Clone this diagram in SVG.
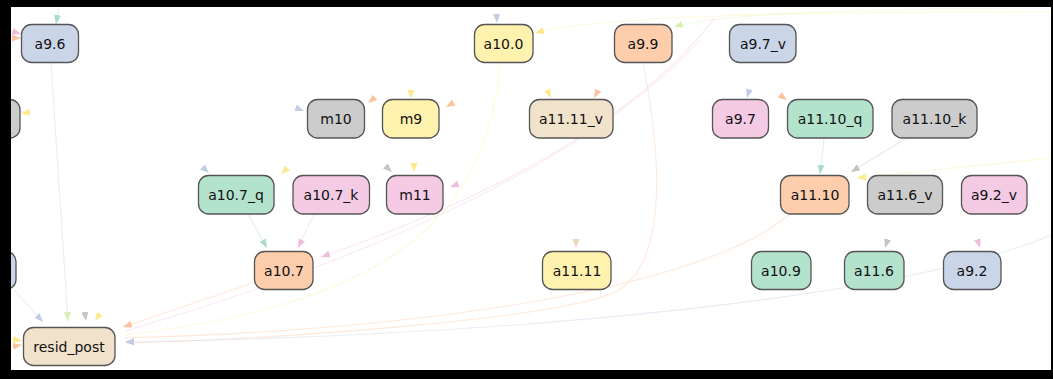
<svg xmlns="http://www.w3.org/2000/svg" width="1053" height="379" viewBox="0 0 1053 379">
<style>
.n rect{stroke:#555;stroke-width:1.3}
.n text{font-family:"DejaVu Sans","Liberation Sans",sans-serif;font-size:14px;fill:#111;text-anchor:middle;dominant-baseline:central}
.e path{fill:none;stroke-width:1.1;stroke-opacity:0.45}
.e path.s{stroke-opacity:0}
.g{fill:#b3e2cd}.o{fill:#fdcdac}.b{fill:#cbd5e8}.p{fill:#f4cae4}.l{fill:#e6f5c9}.y{fill:#fff2ae}.w{fill:#f1e2cc}.k{fill:#cccccc}
</style>
<defs>
<marker id="mG" markerUnits="userSpaceOnUse" markerWidth="10" markerHeight="8" refX="9" refY="3.5" orient="auto"><path d="M0,0L9,3.5L0,7z" fill="#a9dcc4"/></marker>
<marker id="mO" markerUnits="userSpaceOnUse" markerWidth="10" markerHeight="8" refX="9" refY="3.5" orient="auto"><path d="M0,0L9,3.5L0,7z" fill="#fbc3a0"/></marker>
<marker id="mB" markerUnits="userSpaceOnUse" markerWidth="10" markerHeight="8" refX="9" refY="3.5" orient="auto"><path d="M0,0L9,3.5L0,7z" fill="#c2cde4"/></marker>
<marker id="mP" markerUnits="userSpaceOnUse" markerWidth="10" markerHeight="8" refX="9" refY="3.5" orient="auto"><path d="M0,0L9,3.5L0,7z" fill="#f0bddc"/></marker>
<marker id="mL" markerUnits="userSpaceOnUse" markerWidth="10" markerHeight="8" refX="9" refY="3.5" orient="auto"><path d="M0,0L9,3.5L0,7z" fill="#d8efb4"/></marker>
<marker id="mY" markerUnits="userSpaceOnUse" markerWidth="10" markerHeight="8" refX="9" refY="3.5" orient="auto"><path d="M0,0L9,3.5L0,7z" fill="#fbe98e"/></marker>
<marker id="mW" markerUnits="userSpaceOnUse" markerWidth="10" markerHeight="8" refX="9" refY="3.5" orient="auto"><path d="M0,0L9,3.5L0,7z" fill="#ead7b9"/></marker>
<marker id="mK" markerUnits="userSpaceOnUse" markerWidth="10" markerHeight="8" refX="9" refY="3.5" orient="auto"><path d="M0,0L9,3.5L0,7z" fill="#c4c4c4"/></marker>
</defs>
<rect x="0" y="0" width="1053" height="379" fill="#fff"/>
<g id="connectors" class="e">
<path d="M59 7 L56 24" stroke="#b3e2cd" marker-end="url(#mG)"/>
<path d="M4 29 L21 34" stroke="#f4cae4" marker-end="url(#mP)"/>
<path d="M4 38 L21 38" stroke="#fdcdac" marker-end="url(#mO)"/>
<path d="M51 63 L68 321" stroke="#cbd5e8" stroke-opacity="0.3" marker-end="url(#mL)"/>
<path d="M14 290 L43 322" stroke="#cbd5e8" stroke-opacity="0.25" marker-end="url(#mB)"/>
<path class="s" d="M84 306 L86 321" stroke="#cccccc" marker-end="url(#mK)"/>
<path class="s" d="M105 306 L95 321" stroke="#fff2ae" marker-end="url(#mY)"/>
<path d="M2 337 L22 341" stroke="#fff2ae" marker-end="url(#mY)"/>
<path d="M2 348 L22 345" stroke="#fdcdac" marker-end="url(#mO)"/>
<path d="M256 282 L123 327" stroke="#fdcdac" stroke-opacity="0.4" marker-end="url(#mO)"/>
<path d="M643 63 C662 160 668 265 615 292 C560 318 300 338 126 343" stroke="#fdcdac" stroke-opacity="0.75"/>
<path d="M1051 235 C900 300 500 336 125 342" stroke="#cbd5e8" stroke-opacity="0.1" marker-end="url(#mB)"/>
<path d="M501 63 C485 200 420 300 125 335" stroke="#fff2ae" stroke-opacity="0.5"/>
<path d="M790 214 C700 290 420 330 125 338" stroke="#fdcdac" stroke-opacity="0.15"/>
<path d="M700 40 C600 150 400 250 125 331" stroke="#f4cae4" stroke-opacity="0.2"/>
<path d="M1051 12 C800 12 600 15 535 33" stroke="#fff2ae" stroke-opacity="0.6" marker-end="url(#mY)"/>
<path d="M1051 8 C900 8 720 12 674 27" stroke="#e6f5c9" stroke-opacity="0.8" marker-end="url(#mL)"/>
<path d="M715 18 C680 60 600 160 321 257" stroke="#f4cae4" stroke-opacity="0.25" marker-end="url(#mP)"/>
<path d="M248 214 L267 248" stroke="#b3e2cd" stroke-opacity="0.3" marker-end="url(#mG)"/>
<path d="M314 214 L298 248" stroke="#f4cae4" stroke-opacity="0.3" marker-end="url(#mP)"/>
<path class="s" d="M195 160 L209 173" stroke="#cbd5e8" marker-end="url(#mB)"/>
<path class="s" d="M294 162 L281 174" stroke="#fff2ae" marker-end="url(#mY)"/>
<path class="s" d="M380 161 L392 172" stroke="#cccccc" marker-end="url(#mK)"/>
<path class="s" d="M414 158 L414 172" stroke="#fff2ae" marker-end="url(#mY)"/>
<path class="s" d="M464 182 L450 187" stroke="#f4cae4" marker-end="url(#mP)"/>
<path class="s" d="M288 105 L304 111" stroke="#cbd5e8" marker-end="url(#mB)"/>
<path class="s" d="M380 93 L368 103" stroke="#fdcdac" marker-end="url(#mO)"/>
<path class="s" d="M411 85 L411 99" stroke="#fff2ae" marker-end="url(#mY)"/>
<path class="s" d="M460 99 L446 107" stroke="#fdcdac" marker-end="url(#mO)"/>
<path class="s" d="M545 85 L551 98" stroke="#fff2ae" marker-end="url(#mY)"/>
<path class="s" d="M601 85 L594 98" stroke="#fdcdac" marker-end="url(#mO)"/>
<path class="s" d="M496 4 L497 23" stroke="#cbd5e8" marker-end="url(#mB)"/>
<path class="s" d="M751 84 L747 98" stroke="#cbd5e8" marker-end="url(#mB)"/>
<path class="s" d="M770 88 L787 100" stroke="#fdcdac" marker-end="url(#mO)"/>
<path d="M824 139 L820 174" stroke="#b3e2cd" stroke-opacity="0.35" marker-end="url(#mG)"/>
<path d="M905 139 L851 172" stroke="#cccccc" stroke-opacity="0.3" marker-end="url(#mK)"/>
<path d="M1051 158 L857 178" stroke="#fff2ae" stroke-opacity="0.2" marker-end="url(#mY)"/>
<path class="s" d="M890 232 L885 248" stroke="#cccccc" marker-end="url(#mK)"/>
<path class="s" d="M975 232 L980 248" stroke="#f4cae4" marker-end="url(#mP)"/>
<path class="s" d="M576 232 L576 248" stroke="#f1e2cc" marker-end="url(#mW)"/>
<path class="s" d="M38 110 L21 114" stroke="#fff2ae" marker-end="url(#mY)"/>
</g>
<g id="n-left1" class="n"><rect class="k" x="-40" y="99.5" width="60" height="38.5" rx="10"/></g>
<g id="n-left2" class="n"><rect class="b" x="-44" y="251.5" width="60" height="38" rx="10"/></g>
<g id="a9.6" class="n"><rect class="b" x="21.5" y="24.5" width="57" height="38" rx="10"/><text x="50" y="43.5">a9.6</text></g>
<g id="a10.0" class="n"><rect class="y" x="474.5" y="24.5" width="58.5" height="38" rx="10"/><text x="503.5" y="43.5">a10.0</text></g>
<g id="a9.9" class="n"><rect class="o" x="614.5" y="24.5" width="57.5" height="38" rx="10"/><text x="643" y="43.5">a9.9</text></g>
<g id="a9.7_v" class="n"><rect class="b" x="729.5" y="24.5" width="66.5" height="38" rx="10"/><text x="763" y="43.5">a9.7_v</text></g>
<g id="m10" class="n"><rect class="k" x="307.5" y="99.5" width="57" height="38.5" rx="10"/><text x="336" y="118.5">m10</text></g>
<g id="m9" class="n"><rect class="y" x="382.5" y="99.5" width="56.5" height="38.5" rx="10"/><text x="411" y="118.5">m9</text></g>
<g id="a11.11_v" class="n"><rect class="w" x="529.5" y="99.5" width="83.5" height="38.5" rx="10"/><text x="571" y="118.5">a11.11_v</text></g>
<g id="a9.7" class="n"><rect class="p" x="712.5" y="99.5" width="56" height="38.5" rx="10"/><text x="740.5" y="118.5">a9.7</text></g>
<g id="a11.10_q" class="n"><rect class="g" x="787.5" y="99.5" width="85.5" height="38.5" rx="10"/><text x="830" y="118.5">a11.10_q</text></g>
<g id="a11.10_k" class="n"><rect class="k" x="892" y="99.5" width="85" height="38.5" rx="10"/><text x="934.5" y="118.5">a11.10_k</text></g>
<g id="a10.7_q" class="n"><rect class="g" x="198.5" y="175.5" width="75.5" height="38.5" rx="10"/><text x="236" y="194.5">a10.7_q</text></g>
<g id="a10.7_k" class="n"><rect class="p" x="293" y="175.5" width="76.5" height="38.5" rx="10"/><text x="331" y="194.5">a10.7_k</text></g>
<g id="m11" class="n"><rect class="p" x="386.5" y="175.5" width="56.5" height="38.5" rx="10"/><text x="415" y="194.5">m11</text></g>
<g id="a11.10" class="n"><rect class="o" x="780.5" y="175.5" width="68.5" height="38.5" rx="10"/><text x="815" y="194.5">a11.10</text></g>
<g id="a11.6_v" class="n"><rect class="k" x="867.5" y="175.5" width="75" height="38.5" rx="10"/><text x="905" y="194.5">a11.6_v</text></g>
<g id="a9.2_v" class="n"><rect class="p" x="961.5" y="175.5" width="65.5" height="38.5" rx="10"/><text x="994" y="194.5">a9.2_v</text></g>
<g id="a10.7" class="n"><rect class="o" x="254.5" y="251.5" width="58.5" height="38" rx="10"/><text x="284" y="270.5">a10.7</text></g>
<g id="a11.11" class="n"><rect class="y" x="542.5" y="251.5" width="68.5" height="38" rx="10"/><text x="577" y="270.5">a11.11</text></g>
<g id="a10.9" class="n"><rect class="g" x="751.5" y="251.5" width="59.5" height="38" rx="10"/><text x="781" y="270.5">a10.9</text></g>
<g id="a11.6" class="n"><rect class="g" x="844.5" y="251.5" width="59.5" height="38" rx="10"/><text x="874" y="270.5">a11.6</text></g>
<g id="a9.2" class="n"><rect class="b" x="943.5" y="251.5" width="57.5" height="38" rx="10"/><text x="972" y="270.5">a9.2</text></g>
<g id="resid_post" class="n"><rect class="w" x="23.5" y="327.5" width="91.5" height="38" rx="10"/><text x="69" y="346.5">resid_post</text></g>
<g id="frame" fill="#000">
<rect x="0" y="0" width="1053" height="7"/>
<rect x="0" y="0" width="11" height="379"/>
<rect x="0" y="370" width="1053" height="9"/>
<rect x="1051" y="0" width="2" height="379"/>
</g>
</svg>
